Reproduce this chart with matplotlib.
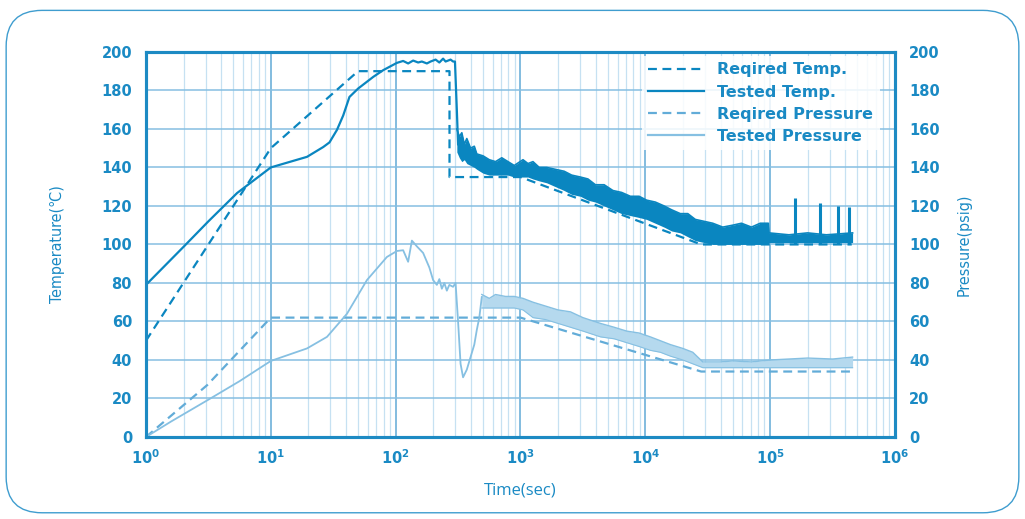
import numpy as np
import matplotlib
matplotlib.use('Agg')
import matplotlib.pyplot as plt
from matplotlib.patches import FancyBboxPatch
from matplotlib.lines import Line2D
from matplotlib.ticker import LogLocator

# Required temperature (dashed)
req_temp_t = [1, 10, 50, 270, 270, 1000, 28000, 450000]
req_temp_v = [50, 150, 190, 190, 135, 135, 100, 100]

# Tested temperature, smooth part up to the drop (log10 of seconds)
tt_logt = [0.0, 0.30, 0.50, 0.73, 1.00, 1.29, 1.42, 1.47, 1.53, 1.58, 1.63, 1.70, 1.82, 1.90,
           2.01, 2.06, 2.10, 2.14, 2.18, 2.21, 2.25, 2.28, 2.32, 2.35, 2.38, 2.40, 2.42, 2.44,
           2.46, 2.475, 2.49, 2.50]
tt_v = [79, 98.7, 112, 126.7, 140, 145.5, 150.6, 153, 159.5, 167, 176.6, 181, 187, 190.5,
        194.3, 195.3, 194, 195.5, 194.5, 195, 194, 195, 196, 194.5, 196.5, 195, 195.5, 196,
        195, 195, 170, 152]

# Tested temperature noisy band after the drop
tb_logt = [2.49, 2.51, 2.53, 2.55, 2.57, 2.60, 2.63, 2.65, 2.70, 2.75, 2.80, 2.85, 2.90, 2.95,
           3.02, 3.06, 3.10, 3.15, 3.21, 3.28, 3.35, 3.41, 3.48, 3.54, 3.60, 3.67, 3.74, 3.81,
           3.88, 3.95, 4.01, 4.08, 4.15, 4.21, 4.28, 4.34, 4.40, 4.47, 4.54, 4.62, 4.70, 4.77,
           4.85, 4.92, 4.985, 4.99, 5.15, 5.30, 5.45, 5.66]
tb_low = [148, 145, 143, 144, 142, 141, 140, 139, 137, 136, 136, 136, 136, 135,
          135, 135, 134, 133, 132, 130, 128, 126, 125, 123, 122, 120, 118, 116,
          115, 114, 113, 111, 109, 107, 106, 104, 102, 101, 100, 100, 100, 100,
          100, 100, 100, 101, 101, 101, 101, 101]
tb_high = [160, 156, 158, 152, 155, 150, 151, 147, 146, 144, 143, 145, 143, 141,
           144, 142, 143, 140, 140, 139, 138, 136, 135, 134, 131, 131, 128, 127,
           125, 125, 123, 122, 120, 118, 116, 116, 113, 112, 111, 109, 110, 111,
           109, 111, 111, 106, 105, 106, 105, 106]

# Spikes after 1e5 s
spike_logt = [5.20, 5.40, 5.54, 5.63]
spike_v = [124, 121.5, 120, 119.5]

# Required pressure (dashed)
req_p_t = [1, 3.1, 10, 1000, 28000, 450000]
req_p_v = [0, 27, 62, 62, 34, 34]

# Tested pressure up to the recovery
tp_logt = [0.0, 0.20, 0.49, 0.75, 1.00, 1.29, 1.45, 1.61, 1.77, 1.93, 2.01, 2.06, 2.10, 2.13,
           2.17, 2.22, 2.27, 2.30, 2.33, 2.35, 2.37, 2.39, 2.41, 2.43, 2.46, 2.48, 2.50, 2.52,
           2.54, 2.57, 2.60, 2.63, 2.65, 2.67, 2.69]
tp_v = [0, 8, 19, 29, 39.5, 46, 52, 64, 81.5, 93.5, 96.6, 97, 91, 102,
        99, 95.6, 88, 81.5, 79, 82, 77, 80, 76, 79, 78, 80, 60, 38,
        31, 35, 41.5, 48, 55.6, 62, 72.7]

# Tested pressure band
pb_logt = [2.69, 2.75, 2.80, 2.88, 2.95, 3.02, 3.10, 3.20, 3.30, 3.40, 3.50, 3.64, 3.75, 3.85,
           3.95, 4.04, 4.12, 4.20, 4.30, 4.38, 4.46, 4.60, 4.70, 4.85, 5.00, 5.15, 5.30, 5.50, 5.66]
pb_low = [67, 67, 67, 67, 67, 66, 62, 61, 59, 57, 55, 52, 51, 49,
          47, 45, 44, 42, 40, 38, 36, 36, 36, 36, 36, 36, 36, 36, 36]
pb_high = [74, 72, 74, 73, 73, 72, 70, 68, 66, 65, 62, 59, 57, 55,
           54, 52, 50, 48, 46, 44, 39, 39, 39.5, 39, 40, 40.5, 41, 40.5, 41.5]

dark = '#0a86c0'
light = '#86c0e2'
blue_txt = '#1a8ac4'

fig = plt.figure(figsize=(10.25, 5.19), dpi=100)
fig.patches.append(FancyBboxPatch((0.006, 0.012), 0.988, 0.968, boxstyle='round,pad=0,rounding_size=0.035',
                                  transform=fig.transFigure, fill=False, edgecolor='#3f9dcf', linewidth=1.0,
                                  mutation_aspect=1025/519))
ax = fig.add_axes([0.1424, 0.158, 0.7308, 0.742])
ax2 = ax.twinx()

ax.set_xscale('log')
ax.set_xlim(1, 1e6)
ax.set_ylim(0, 200)
ax2.set_ylim(0, 200)

ax.xaxis.set_major_locator(LogLocator(base=10, numticks=10))
ax.xaxis.set_minor_locator(LogLocator(base=10, subs=np.arange(2, 10), numticks=100))
ax.set_yticks(np.arange(0, 201, 20))
ax2.set_yticks(np.arange(0, 201, 20))

ax.grid(True, which='major', axis='x', color='#78b6dc', lw=1.3)
ax.grid(True, which='minor', axis='x', color='#c6e1f2', lw=0.9)
ax.grid(True, which='major', axis='y', color='#86bfe2', lw=1.1)
ax.set_axisbelow(True)

# temperature
ax.plot(req_temp_t, req_temp_v, color=dark, lw=1.6, ls=(0, (4, 2.5)))
ax.plot(10 ** np.array(tt_logt), tt_v, color=dark, lw=1.6)
tbx = 10 ** np.array(tb_logt)
ax.fill_between(tbx, tb_low, tb_high, color=dark, lw=0)
ax.plot(tbx, tb_high, color=dark, lw=1.2)
ax.vlines(10 ** np.array(spike_logt), 100, spike_v, color=dark, lw=2.2)

# pressure
ax2.plot(req_p_t, req_p_v, color='#62acd8', lw=1.6, ls=(0, (4, 2.5)))
ax2.plot(10 ** np.array(tp_logt), tp_v, color=light, lw=1.3)
pbx = 10 ** np.array(pb_logt)
ax2.fill_between(pbx, pb_low, pb_high, color='#b5d9ee', lw=0)
ax2.plot(pbx, pb_high, color=light, lw=1.0)
ax2.plot(pbx, pb_low, color=light, lw=0.8)

for a in (ax, ax2):
    for s in a.spines.values():
        s.set_color('#1d8ac3')
        s.set_linewidth(2.2)
    a.tick_params(which='both', length=0, colors=blue_txt, labelsize=10.5)
    for lab in a.get_yticklabels() + a.get_xticklabels():
        lab.set_fontweight('bold')
ax.tick_params(axis='x', pad=8)
ax.tick_params(axis='y', pad=10)
ax2.tick_params(axis='y', pad=10)

ax.set_xlabel('Time(sec)', color=blue_txt, fontsize=12, family='Open Sans', labelpad=11)
ax.set_ylabel('Temperature(℃)', color=blue_txt, fontsize=11.5, fontstretch='condensed', labelpad=26)
ax2.set_ylabel('Pressure(psig)', color=blue_txt, fontsize=11.5, fontstretch='condensed',
               labelpad=12, rotation=90)

handles = [Line2D([], [], color=dark, lw=1.6, ls=(0, (4, 2.5))),
           Line2D([], [], color=dark, lw=1.6),
           Line2D([], [], color='#62acd8', lw=1.6, ls=(0, (4, 2.5))),
           Line2D([], [], color=light, lw=1.6)]
labels = ['Reqired Temp.', 'Tested Temp.', 'Reqired Pressure', 'Tested Pressure']
leg = ax2.legend(handles, labels, loc='upper right', bbox_to_anchor=(0.99, 1.01), frameon=True,
                 framealpha=0.85, edgecolor='none', fancybox=False, handlelength=3.5,
                 labelspacing=0.45, prop={'weight': 'bold', 'size': 11.5})
for t in leg.get_texts():
    t.set_color(blue_txt)

fig.savefig('out.png', dpi=100)
